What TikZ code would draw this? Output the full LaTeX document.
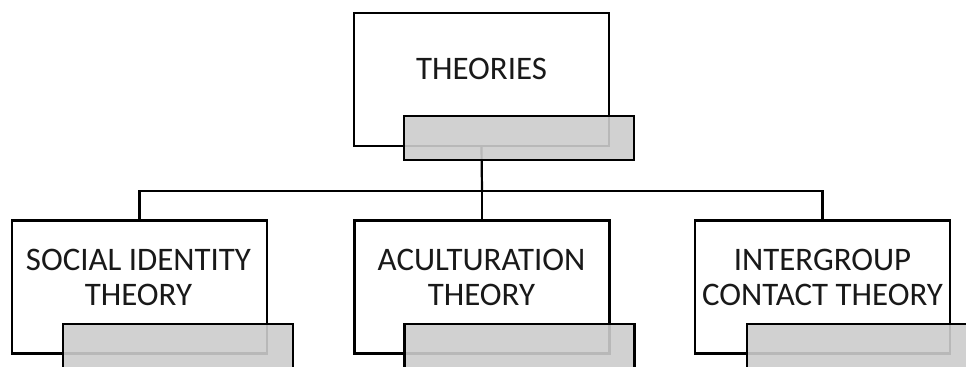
\documentclass[tikz,border=0pt]{standalone}
\usepackage{fontspec}
\setmainfont{Carlito}
\begin{document}
\begin{tikzpicture}[x=1bp,y=-1bp,
  box/.style={draw=black,line width=2.2bp,fill=white,minimum width=255bp,minimum height=133bp,inner sep=0pt,outer sep=0pt},
  tab/.style={draw=black,line width=2.2bp,fill={rgb,255:red,204;green,204;blue,204},fill opacity=0.9,minimum width=230bp,minimum height=44bp,inner sep=0pt,outer sep=0pt},
  txt/.style={align=center,inner sep=0pt,text=black!90,font=\fontsize{33}{35}\selectfont},
  conn/.style={line width=2.2bp,draw=black}]
\useasboundingbox (0,0) rectangle (966,366);
\clip (0,0) rectangle (966,366);
% boxes
\node[box] (t) at (481.5,79.5) {};
\node[box] (a) at (139.5,287) {};
\node[box] (b) at (482,287) {};
\node[box] (c) at (822.5,287) {};
\coordinate (j) at (482,191);
% connectors
\draw[conn] (t.south) -- (j);
\draw[conn] (a.north) |- (j) -| (c.north);
\draw[conn] (j) -- (b.north);
% tabs
\node[tab] (tg) at (519,138) {};
\node[tab] (ag) at (178,346) {};
\node[tab] (bg) at (519.5,346) {};
\node[tab] (cg) at (862,346) {};
% texts
\node[txt] (tt) at (481.5,69) {THEORIES};
\node[txt] (at) at (138.5,277.5) {SOCIAL IDENTITY\\THEORY};
\node[txt] (bt) at (481.5,277.5) {ACULTURATION\\THEORY};
\node[txt] (ct) at (822.5,277.5) {INTERGROUP\\CONTACT THEORY};
\end{tikzpicture}
\end{document}
